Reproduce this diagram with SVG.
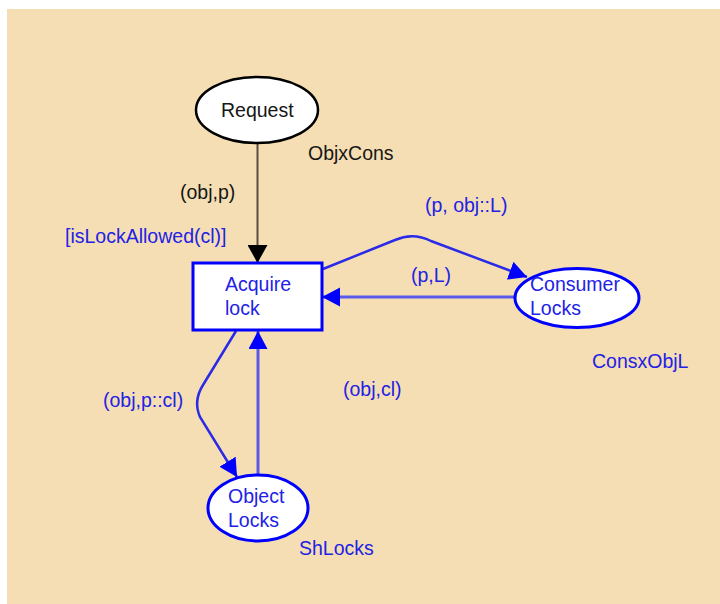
<svg xmlns="http://www.w3.org/2000/svg" width="720" height="604" viewBox="0 0 720 604">
  <style>
    text { font-family: "Liberation Sans", Arial, sans-serif; font-size: 19.5px; }
    .blk { fill: #161616; }
    .blu { fill: #2222e6; }
    .place { fill: #ffffff; stroke: #0000ff; stroke-width: 3; }
    .trans { fill: #ffffff; stroke: #0000ff; stroke-width: 3; }
    .arc { fill: none; stroke: #2a2ae8; stroke-width: 2.5; }
    .arcl { fill: none; stroke: #5a5aea; stroke-width: 3; }
  </style>
  <defs>
    <marker id="ahb" markerUnits="userSpaceOnUse" markerWidth="20" markerHeight="20" refX="18" refY="9.5" orient="auto">
      <path d="M0,0 L18,9.5 L0,19 z" fill="#0000ff"/>
    </marker>
    <marker id="ahk" markerUnits="userSpaceOnUse" markerWidth="20" markerHeight="20" refX="18" refY="10" orient="auto">
      <path d="M0,0 L18,10 L0,20 z" fill="#000000"/>
    </marker>
  </defs>
  <rect x="7" y="9" width="713" height="595" fill="#f5deb3"/>

  <g id="connectors">
    <path d="M257.5,143 L257.5,263" fill="none" stroke="#5a4b3c" stroke-width="2" marker-end="url(#ahk)"/>
    <path class="arc" d="M323,269 L395,240 Q413,232 431,241 L527,277" marker-end="url(#ahb)"/>
    <path class="arcl" d="M514,297 L322,297" marker-end="url(#ahb)"/>
    <path class="arcl" d="M258,475 L258,331" stroke-width="2.5" marker-end="url(#ahb)"/>
    <path class="arc" d="M236,331 L203,385 Q193,401 200,417 L237,477" marker-end="url(#ahb)"/>
  </g>

  <g id="labels">
    <text class="blk" x="180" y="199">(obj,p)</text>
    <text class="blu" x="65" y="243">[isLockAllowed(cl)]</text>
    <text class="blu" x="425" y="212">(p, obj::L)</text>
    <text class="blu" x="411" y="282">(p,L)</text>
    <text class="blu" x="343" y="396">(obj,cl)</text>
    <text class="blu" x="103" y="407">(obj,p::cl)</text>
  </g>

  <g id="request">
    <ellipse cx="257" cy="110" rx="61" ry="33" fill="#ffffff" stroke="#000000" stroke-width="2.5"/>
    <text class="blk" x="221" y="117">Request</text>
    <text class="blk" x="308" y="160">ObjxCons</text>
  </g>

  <g id="acquire-lock">
    <rect class="trans" x="193" y="263" width="129" height="67"/>
    <text class="blu" x="225" y="291">Acquire</text>
    <text class="blu" x="225" y="315">lock</text>
  </g>

  <g id="consumer-locks">
    <ellipse class="place" cx="577" cy="298" rx="62" ry="29.5"/>
    <text class="blu" x="530" y="291">Consumer</text>
    <text class="blu" x="530" y="315">Locks</text>
    <text class="blu" x="592" y="368">ConsxObjL</text>
  </g>

  <g id="object-locks">
    <ellipse class="place" cx="258" cy="508" rx="50" ry="33"/>
    <text class="blu" x="228" y="503">Object</text>
    <text class="blu" x="228" y="527">Locks</text>
    <text class="blu" x="299" y="555">ShLocks</text>
  </g>
</svg>
